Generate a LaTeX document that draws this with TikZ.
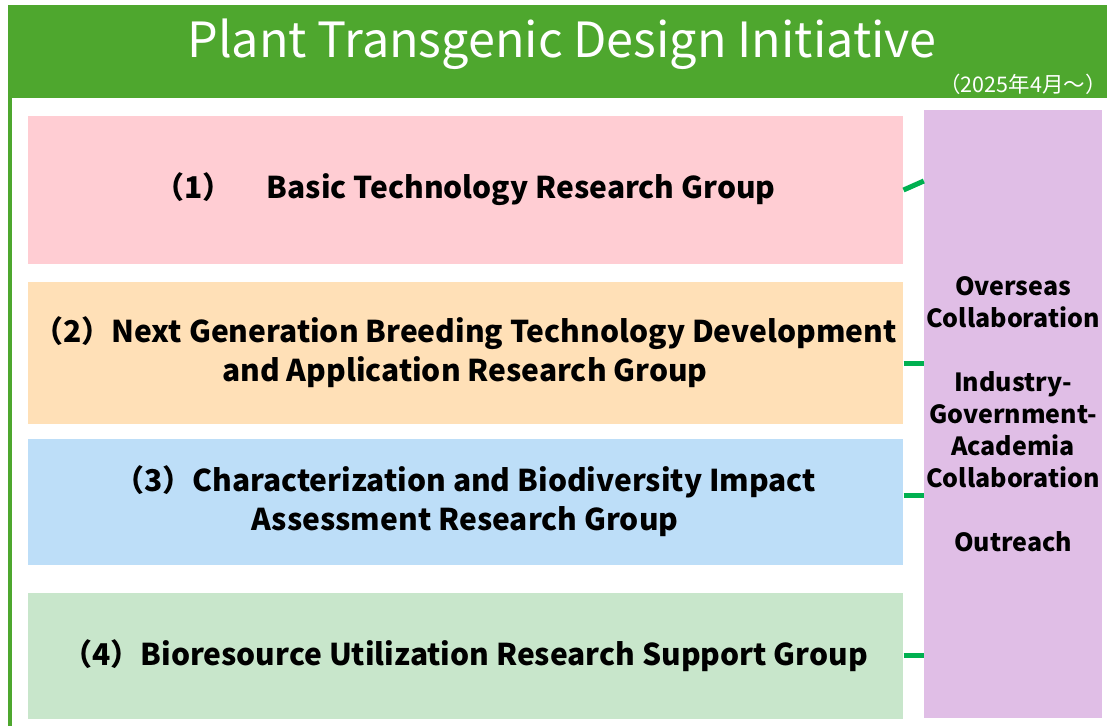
\documentclass[tikz,border=0pt]{standalone}
\usepackage{fontspec}
\setmainfont{Noto Sans CJK JP}
\usetikzlibrary{positioning}
\definecolor{hdgreen}{RGB}{78,167,46}
\definecolor{linkgreen}{RGB}{0,176,80}
\definecolor{pinkbox}{RGB}{255,205,211}
\definecolor{orangebox}{RGB}{255,224,183}
\definecolor{bluebox}{RGB}{189,222,248}
\definecolor{greenbox}{RGB}{200,230,203}
\definecolor{purplebox}{RGB}{224,190,230}
\tikzstyle{group} = [rectangle, draw=white, line width=1pt, minimum width=876pt, inner xsep=0pt, align=center, font=\bfseries\fontsize{30}{39}\selectfont]
\tikzstyle{link} = [draw=linkgreen, line width=5pt]
\begin{document}
\begin{tikzpicture}[x=1pt,y=-1pt]
\useasboundingbox (0,0) rectangle (1107,726);
% header
\node[rectangle, fill=hdgreen, minimum width=1099pt, minimum height=93pt, inner sep=0pt] (hdr) at (557.5,51.5) {};
\node[text=white, font=\fontsize{48.5}{54}\selectfont] (title) at (562,44) {Plant Transgenic Design Initiative};
\node[text=white, font=\fontsize{21.5}{24}\selectfont] (date) at (1023,84) {（2025年4月～）};
\draw[hdgreen, line width=4pt] ([xshift=2pt]hdr.south west) -- ++(0,628);

% groups
\node[group, fill=pinkbox, minimum height=149pt] (b1) at (465,189.5) {（1）\hspace{34pt}Basic Technology Research Group};
\node[group, fill=orangebox, minimum height=143pt] (b2) at (465,352.5) {（2）Next Generation Breeding Technology Development\\and Application Research Group};
\node[group, fill=bluebox, minimum height=127pt] (b3) at (465,501.5) {（3）Characterization and Biodiversity Impact\\Assessment Research Group};
\node[group, fill=greenbox, minimum height=127pt] (b4) at (465,655.5) {（4）Bioresource Utilization Research Support Group};

% collaboration column
\node[rectangle, fill=purplebox, minimum width=178pt, minimum height=608pt, align=center, inner sep=0pt, font=\bfseries\fontsize{25}{32}\selectfont] (side) at (1013,414) {Overseas\\Collaboration\\[32pt]Industry-\\Government-\\Academia\\Collaboration\\[32pt]Outreach};

% links
\draw[link] ([yshift=-0.5pt]b1.east) -- ([yshift=8.5pt]b1.east -| side.west);
\draw[link] ([yshift=-10.5pt]b2.east) -- ([yshift=-10.5pt]b2.east -| side.west);
\draw[link] ([yshift=6.5pt]b3.east) -- ([yshift=6.5pt]b3.east -| side.west);
\draw[link] (b4.east) -- (b4.east -| side.west);
\end{tikzpicture}
\end{document}
